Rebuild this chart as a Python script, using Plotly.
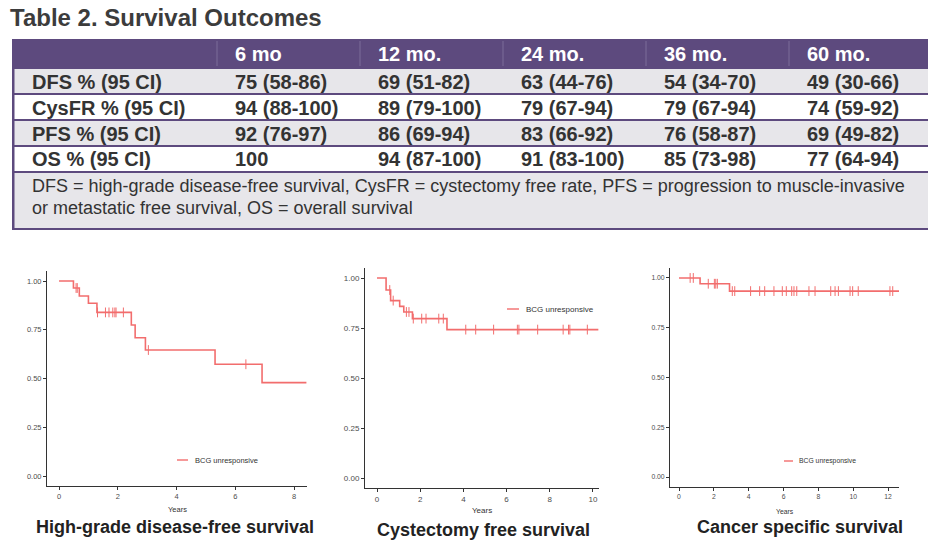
import plotly.graph_objects as go

W, H = 936, 542
PAGE_OFFSET = 8  # the page body margin shifts the figure by this many pixels

# ---------------- table data ----------------
table_title = "Table 2. Survival Outcomes"
col_headers = ["6 mo", "12 mo.", "24 mo.", "36 mo.", "60 mo."]
row_labels = ["DFS % (95 CI)", "CysFR % (95 CI)", "PFS % (95 CI)", "OS % (95 CI)"]
dfs_vals = ["75 (58-86)", "69 (51-82)", "63 (44-76)", "54 (34-70)", "49 (30-66)"]
cysfr_vals = ["94 (88-100)", "89 (79-100)", "79 (67-94)", "79 (67-94)", "74 (59-92)"]
pfs_vals = ["92 (76-97)", "86 (69-94)", "83 (66-92)", "76 (58-87)", "69 (49-82)"]
os_vals = ["100", "94 (87-100)", "91 (83-100)", "85 (73-98)", "77 (64-94)"]
footnote_lines = [
    "DFS = high-grade disease-free survival, CysFR = cystectomy free rate, PFS = progression to muscle-invasive",
    "or metastatic free survival, OS = overall survival",
]

# ---------------- Kaplan-Meier data (years, survival probability) ----------------
legend_label = "BCG unresponsive"
x_title = "Years"
panel_titles = ["High-grade disease-free survival", "Cystectomy free survival", "Cancer specific survival"]

hg_times = [0, 0.49, 0.69, 1.00, 1.29, 2.46, 2.59, 2.94, 5.31, 6.91]
hg_surv = [1.0, 0.964, 0.923, 0.886, 0.839, 0.774, 0.709, 0.646, 0.573, 0.479]
hg_end = 8.42
hg_censor = [0.58, 0.62, 1.31, 1.58, 1.70, 1.83, 1.90, 1.94, 2.19, 3.04, 6.36]

cf_times = [0, 0.42, 0.63, 1.05, 1.24, 1.64, 3.24]
cf_surv = [1.0, 0.940, 0.887, 0.858, 0.830, 0.797, 0.742]
cf_end = 10.25
cf_censor = [0.59, 0.75, 1.36, 1.48, 1.68, 2.07, 2.27, 2.86, 3.07, 4.11, 4.57, 5.40,
             6.50, 6.57, 7.44, 8.62, 8.87, 8.93, 9.74]

cs_times = [0, 1.21, 2.90]
cs_surv = [1.0, 0.971, 0.934]
cs_end = 12.65
cs_censor = [0.64, 0.82, 1.68, 2.03, 2.11, 2.20, 3.06, 3.20, 4.11, 4.63, 4.92, 5.45, 5.93,
             6.16, 6.47, 6.60, 6.76, 7.46, 7.81, 8.71, 8.96, 9.15, 9.82, 9.97, 10.29,
             12.11, 12.27]

# ---------------- styling ----------------
FONT = "Liberation Sans, Arial, sans-serif"
PURPLE = "#5d4a7e"
DIVIDER = "#7d6d99"
ROW_GRAY = "#e7e6ea"
TXT = "#333333"
KM_RED = "#f26d6d"
AX = "#333333"


def xp(px):
    return (px - PAGE_OFFSET) / W


def yp(py):
    return 1 - (py - PAGE_OFFSET) / H


def step_value(times, surv, t):
    val = surv[0]
    for ti, si in zip(times, surv):
        if ti <= t:
            val = si
    return val


shapes = []
annotations = []

# ---- table ----
annotations.append(dict(text=table_title, x=xp(8), y=yp(18), xref="paper", yref="paper",
                        xanchor="left", yanchor="middle", showarrow=False,
                        font=dict(family=FONT, size=24, color="#3c3c3c", weight=700)))

tx0, tx1 = 12, 933
shapes.append(dict(type="rect", xref="paper", yref="paper", x0=xp(tx0), x1=xp(tx1),
                   y0=yp(230), y1=yp(39), fillcolor=PURPLE, line=dict(width=0), layer="below"))
row_boxes = [(69, 93, ROW_GRAY), (95, 119, "#ffffff"), (121, 145, ROW_GRAY), (147, 171, "#ffffff"),
             (173, 228, ROW_GRAY)]
for top, bot, col in row_boxes:
    shapes.append(dict(type="rect", xref="paper", yref="paper", x0=xp(tx0 + 2.5), x1=xp(tx1 - 2.5),
                       y0=yp(bot), y1=yp(top), fillcolor=col, line=dict(width=0), layer="below"))

col_x = [233, 376, 519, 662, 805]
for cx in col_x:
    shapes.append(dict(type="line", xref="paper", yref="paper", x0=xp(cx - 16), x1=xp(cx - 16),
                       y0=yp(66), y1=yp(41), line=dict(color=DIVIDER, width=1)))

for cx, h in zip(col_x, col_headers):
    annotations.append(dict(text=h, x=xp(cx), y=yp(54), xref="paper", yref="paper",
                            xanchor="left", yanchor="middle", showarrow=False,
                            font=dict(family=FONT, size=20, color="#ffffff", weight=700)))

row_centers = [82, 108, 134, 159]
all_rows = [dfs_vals, cysfr_vals, pfs_vals, os_vals]
for cy, lab, vals in zip(row_centers, row_labels, all_rows):
    annotations.append(dict(text=lab, x=xp(30), y=yp(cy), xref="paper", yref="paper",
                            xanchor="left", yanchor="middle", showarrow=False,
                            font=dict(family=FONT, size=20, color=TXT, weight=700)))
    for cx, v in zip(col_x, vals):
        annotations.append(dict(text=v, x=xp(cx), y=yp(cy), xref="paper", yref="paper",
                                xanchor="left", yanchor="middle", showarrow=False,
                                font=dict(family=FONT, size=20, color=TXT, weight=700)))

for cy, line in zip([186, 208], footnote_lines):
    annotations.append(dict(text=line, x=xp(30), y=yp(cy), xref="paper", yref="paper",
                            xanchor="left", yanchor="middle", showarrow=False,
                            font=dict(family=FONT, size=18, color=TXT)))

# ---- KM panels ----
panels = [
    dict(times=hg_times, surv=hg_surv, end=hg_end, censor=hg_censor,
         dom_x=(47, 307), dom_y=(271.25, 485.75), xr=[-0.41, 8.44], xmax=8, fs=7.5,
         leg=(177, 188, 193, 460), title_xy=(175, 527), years_xy=(177, 509)),
    dict(times=cf_times, surv=cf_surv, end=cf_end, censor=cf_censor,
         dom_x=(365, 599), dom_y=(268, 488), xr=[-0.556, 10.28], xmax=10, fs=8,
         leg=(507, 519, 524, 309), title_xy=(483, 530), years_xy=(482, 510)),
    dict(times=cs_times, surv=cs_surv, end=cs_end, censor=cs_censor,
         dom_x=(670, 899), dom_y=(268, 487), xr=[-0.517, 12.63], xmax=12, fs=6.8,
         leg=(784, 793, 797, 461), title_xy=(800, 527), years_xy=(785, 511)),
]

fig = go.Figure()
layout_axes = {}
for i, p in enumerate(panels, start=1):
    xa = "x" if i == 1 else f"x{i}"
    ya = "y" if i == 1 else f"y{i}"
    xs = list(p["times"]) + [p["end"]]
    ys = list(p["surv"]) + [p["surv"][-1]]
    fig.add_trace(go.Scatter(x=xs, y=ys, mode="lines", line=dict(color=KM_RED, width=1.6, shape="hv"),
                             name=legend_label, showlegend=False, xaxis=xa, yaxis=ya))
    cy = [step_value(p["times"], p["surv"], t) for t in p["censor"]]
    fig.add_trace(go.Scatter(x=p["censor"], y=cy, mode="markers",
                             marker=dict(symbol="line-ns", size=7, color=KM_RED,
                                         line=dict(color=KM_RED, width=1)),
                             name=legend_label, showlegend=False, xaxis=xa, yaxis=ya))
    kx = "xaxis" if i == 1 else f"xaxis{i}"
    ky = "yaxis" if i == 1 else f"yaxis{i}"
    layout_axes[kx] = dict(domain=[xp(p["dom_x"][0]), xp(p["dom_x"][1])], range=p["xr"],
                           anchor=ya, showline=True, linecolor=AX, linewidth=1, ticks="outside",
                           ticklen=3, tickcolor=AX, tickwidth=1,
                           tickvals=list(range(0, p["xmax"] + 1, 2)),
                           tickfont=dict(family=FONT, size=p["fs"], color="#4d4d4d"),
                           showgrid=False, zeroline=False, fixedrange=True)
    layout_axes[ky] = dict(domain=[yp(p["dom_y"][1]), yp(p["dom_y"][0])], range=[-0.05, 1.05],
                           anchor=xa, showline=True, linecolor=AX, linewidth=1, ticks="outside",
                           ticklen=3, tickcolor=AX, tickwidth=1,
                           tickvals=[0, 0.25, 0.5, 0.75, 1.0], tickformat=".2f",
                           tickfont=dict(family=FONT, size=p["fs"], color="#4d4d4d"),
                           showgrid=False, zeroline=False, fixedrange=True)
    lx0, lx1, ltx, ly = p["leg"]
    shapes.append(dict(type="line", xref="paper", yref="paper", x0=xp(lx0), x1=xp(lx1),
                       y0=yp(ly), y1=yp(ly), line=dict(color=KM_RED, width=1.4)))
    annotations.append(dict(text=legend_label, x=xp(ltx), y=yp(ly), xref="paper", yref="paper",
                            xanchor="left", yanchor="middle", showarrow=False,
                            font=dict(family=FONT, size=p["fs"], color=TXT)))
    annotations.append(dict(text=x_title, x=xp(p["years_xy"][0]), y=yp(p["years_xy"][1]),
                            xref="paper", yref="paper", xanchor="center", yanchor="middle",
                            showarrow=False, font=dict(family=FONT, size=p["fs"], color=TXT)))
    annotations.append(dict(text=panel_titles[i - 1], x=xp(p["title_xy"][0]), y=yp(p["title_xy"][1]),
                            xref="paper", yref="paper", xanchor="center", yanchor="middle",
                            showarrow=False, font=dict(family=FONT, size=18, color="#222222", weight=700)))

fig.update_layout(width=W, height=H, autosize=False, margin=dict(l=0, r=0, t=0, b=0),
                  paper_bgcolor="white", plot_bgcolor="white", showlegend=False,
                  shapes=shapes, annotations=annotations, **layout_axes)

fig.write_html("out.html")
